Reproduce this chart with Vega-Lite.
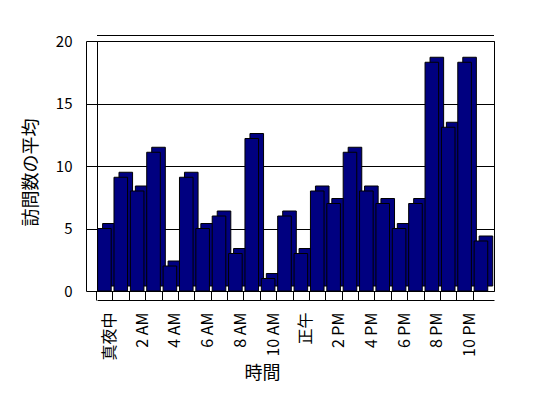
{
  "$schema": "https://vega.github.io/schema/vega-lite/v6.json",
  "width": 397,
  "height": 250,
  "autosize": "none",
  "padding": {"left": 97, "top": 41, "right": 54, "bottom": 107},
  "background": "white",
  "config": {
    "view": {"stroke": "black", "strokeWidth": 1},
    "font": "Noto Sans CJK JP"
  },
  "data": {
    "values": [
      {"hour": 0, "visits": 5},
      {"hour": 1, "visits": 9.1},
      {"hour": 2, "visits": 8},
      {"hour": 3, "visits": 11.1},
      {"hour": 4, "visits": 2},
      {"hour": 5, "visits": 9.1},
      {"hour": 6, "visits": 5},
      {"hour": 7, "visits": 6},
      {"hour": 8, "visits": 3},
      {"hour": 9, "visits": 12.2},
      {"hour": 10, "visits": 1},
      {"hour": 11, "visits": 6},
      {"hour": 12, "visits": 3},
      {"hour": 13, "visits": 8},
      {"hour": 14, "visits": 7},
      {"hour": 15, "visits": 11.1},
      {"hour": 16, "visits": 8},
      {"hour": 17, "visits": 7},
      {"hour": 18, "visits": 5},
      {"hour": 19, "visits": 7},
      {"hour": 20, "visits": 18.3},
      {"hour": 21, "visits": 13.1},
      {"hour": 22, "visits": 18.3},
      {"hour": 23, "visits": 4}
    ]
  },
  "encoding": {
    "x": {
      "field": "hour",
      "type": "ordinal",
      "sort": null,
      "title": "時間",
      "scale": {"paddingInner": 0.17, "paddingOuter": 0.21, "align": 0.09},
      "axis": {
        "offset": 9,
        "domainColor": "black",
        "domainWidth": 1,
        "ticks": true,
        "tickColor": "black",
        "tickSize": -9,
        "bandPosition": 0,
        "tickOffset": -1.5,
        "labelAngle": -90,
        "labelAlign": "right",
        "labelBaseline": "middle",
        "labelPadding": 21,
        "labelOffset": 6.5,
        "labelFontSize": 16,
        "labelColor": "black",
        "labelOverlap": false,
        "labelExpr": "datum.value == 0 ? '真夜中' : datum.value == 12 ? '正午' : datum.value % 2 == 1 ? '' : (datum.value < 12 ? datum.value + ' AM' : (datum.value - 12) + ' PM')",
        "grid": false,
        "titleFontSize": 18,
        "titleFontWeight": "normal",
        "titleColor": "black",
        "titlePadding": 4,
        "titleX": 165
      }
    },
    "y": {
      "field": "visits",
      "type": "quantitative",
      "title": "訪問数の平均",
      "scale": {"domain": [0, 20], "nice": false},
      "axis": {
        "values": [0, 5, 10, 15, 20],
        "offset": 11,
        "domainColor": "black",
        "tickColor": "black",
        "tickSize": -11,
        "labelPadding": 25,
        "labelFontSize": 15,
        "labelColor": "black",
        "grid": true,
        "gridColor": "black",
        "gridOpacity": 1,
        "gridWidth": 1,
        "titleFontSize": 18,
        "titleFontWeight": "normal",
        "titleColor": "black",
        "titlePadding": 15,
        "titleY": 131
      }
    }
  },
  "layer": [
    {
      "mark": {"type": "rule", "color": "black", "strokeWidth": 1, "clip": false},
      "encoding": {"x": null, "y": {"datum": 20.44}}
    },
    {"mark": {"type": "bar", "color": "#000080", "stroke": "black", "strokeWidth": 1, "xOffset": 5, "yOffset": -5}},
    {"mark": {"type": "bar", "color": "#000080", "stroke": "black", "strokeWidth": 1}}
  ]
}
